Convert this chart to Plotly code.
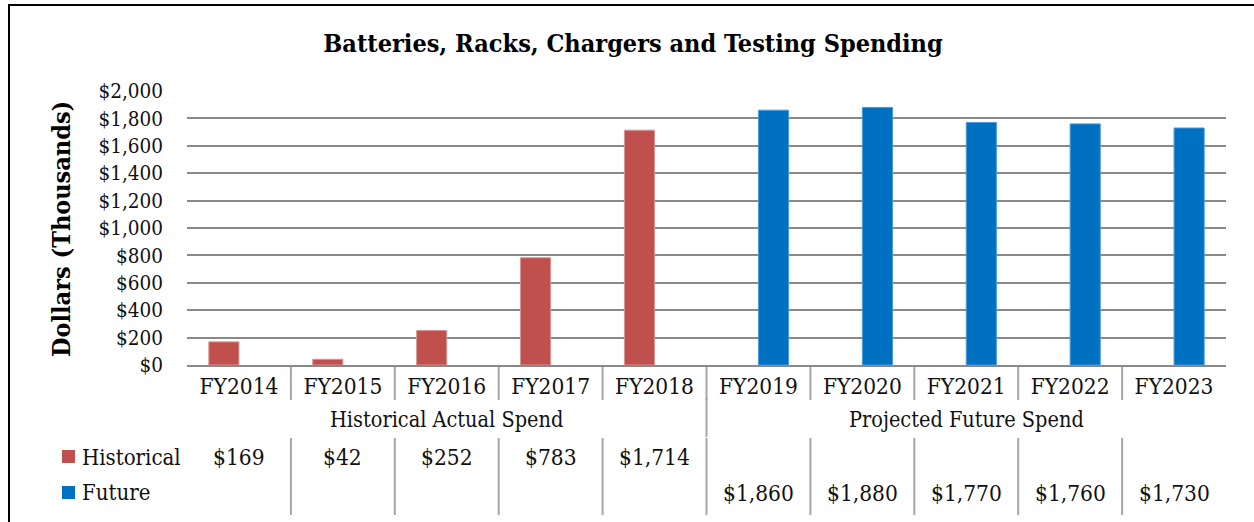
import plotly.graph_objects as go

# chart data
years = ["FY2014", "FY2015", "FY2016", "FY2017", "FY2018",
         "FY2019", "FY2020", "FY2021", "FY2022", "FY2023"]
historical = [169, 42, 252, 783, 1714, None, None, None, None, None]
future = [None, None, None, None, None, 1860, 1880, 1770, 1760, 1730]
groups = ["Historical Actual Spend", "Projected Future Spend"]
group_sizes = [5, 5]
y_ticks = [0, 200, 400, 600, 800, 1000, 1200, 1400, 1600, 1800, 2000]

RED = "#C0504D"
BLUE = "#0070C0"
GRID = "#898989"
DIV = "#A6A6A6"
FONT = "DejaVu Serif Condensed, DejaVu Serif, serif"

W, H = 1254, 522
L, R, T, B = 187, 28, 91, 157
PH = H - T - B
PW = W - L - R


def py(pix):
    # pixel row -> paper y
    return (H - B - pix) / PH


def px(pix):
    # pixel column -> paper x
    return (pix - L) / PW


def money(v):
    return "" if v is None else "${:,}".format(v)


fig = go.Figure()
fig.add_trace(go.Bar(x=years, y=historical, name="Historical",
                     marker=dict(color=RED, line=dict(color="#D99694", width=1))))
fig.add_trace(go.Bar(x=years, y=future, name="Future",
                     marker=dict(color=BLUE, line=dict(color="#4A9BE0", width=1))))

shapes = []
annotations = []

for i in range(len(years) - 1):
    # dividers in the category row
    shapes.append(dict(type="line", xref="x", yref="paper",
                       x0=i + 0.5, x1=i + 0.5, y0=py(367), y1=py(400),
                       line=dict(color=DIV, width=2)))
    # dividers in the value rows
    shapes.append(dict(type="line", xref="x", yref="paper",
                       x0=i + 0.5, x1=i + 0.5, y0=py(438), y1=py(515),
                       line=dict(color=DIV, width=2)))

# group labels and group divider
start = 0
for name, n in zip(groups, group_sizes):
    annotations.append(dict(x=start + (n - 1) / 2, xref="x", y=py(419), yref="paper",
                            text=name, showarrow=False, yanchor="middle",
                            font=dict(size=21.5, color="#111", family=FONT)))
    start += n
    if start < len(years):
        shapes.append(dict(type="line", xref="x", yref="paper",
                           x0=start - 0.5, x1=start - 0.5, y0=py(398), y1=py(437),
                           line=dict(color=DIV, width=2)))

# value rows with legend keys
for row_y, label, color, vals in [(457, "Historical", RED, historical),
                                  (493, "Future", BLUE, future)]:
    shapes.append(dict(type="rect", xref="paper", yref="paper",
                       x0=px(62), x1=px(75), y0=py(row_y + 6), y1=py(row_y - 7),
                       fillcolor=color, line=dict(width=0)))
    annotations.append(dict(x=px(80), xref="paper", y=py(row_y), yref="paper",
                            text=label, showarrow=False, xanchor="left", yanchor="middle",
                            font=dict(size=22, color="#111", family=FONT)))
    for yr, v in zip(years, vals):
        if v is None:
            continue
        annotations.append(dict(x=yr, xref="x", y=py(row_y), yref="paper",
                                text=money(v), showarrow=False, yanchor="middle",
                                font=dict(size=22.5, color="#111", family=FONT)))

# y axis title
annotations.append(dict(x=px(62), xref="paper", y=py(229), yref="paper",
                        text="<b>Dollars (Thousands)</b>", textangle=-90, showarrow=False,
                        xanchor="center", yanchor="middle",
                        font=dict(size=25, color="#000", family=FONT)))

# outer frame
shapes.append(dict(type="rect", xref="paper", yref="paper",
                   x0=px(9), x1=px(1300), y0=py(560), y1=py(5),
                   line=dict(color="#000", width=2), layer="below"))

fig.update_layout(
    width=W, height=H,
    margin=dict(l=L, r=R, t=T, b=B),
    paper_bgcolor="white", plot_bgcolor="white",
    barmode="group", bargap=0.42, bargroupgap=0,
    showlegend=False,
    title=dict(text="<b>Batteries, Racks, Chargers and Testing Spending</b>",
               x=633 / W, xref="container", xanchor="center",
               y=1 - 43 / H, yref="container", yanchor="middle",
               font=dict(size=25, color="#000", family=FONT)),
    font=dict(family=FONT, size=21, color="#111"),
    shapes=shapes,
    annotations=annotations,
)
fig.update_xaxes(showgrid=False, showline=True, linecolor=GRID, linewidth=2,
                 ticks="", tickfont=dict(size=22.5, family=FONT, color="#111"),
                 ticklabelstandoff=0, range=[-0.5, len(years) - 0.5])
fig.update_yaxes(range=[0, 2000], tickvals=y_ticks,
                 ticktext=[money(v) for v in y_ticks],
                 showgrid=True, gridcolor=GRID, gridwidth=2,
                 zeroline=False, showline=False, ticks="",
                 ticklabelstandoff=23,
                 tickfont=dict(size=20.5, family=FONT, color="#111"))

fig.write_html("out.html", config={"displayModeBar": False},
               post_script="document.body.style.margin = '0';")
